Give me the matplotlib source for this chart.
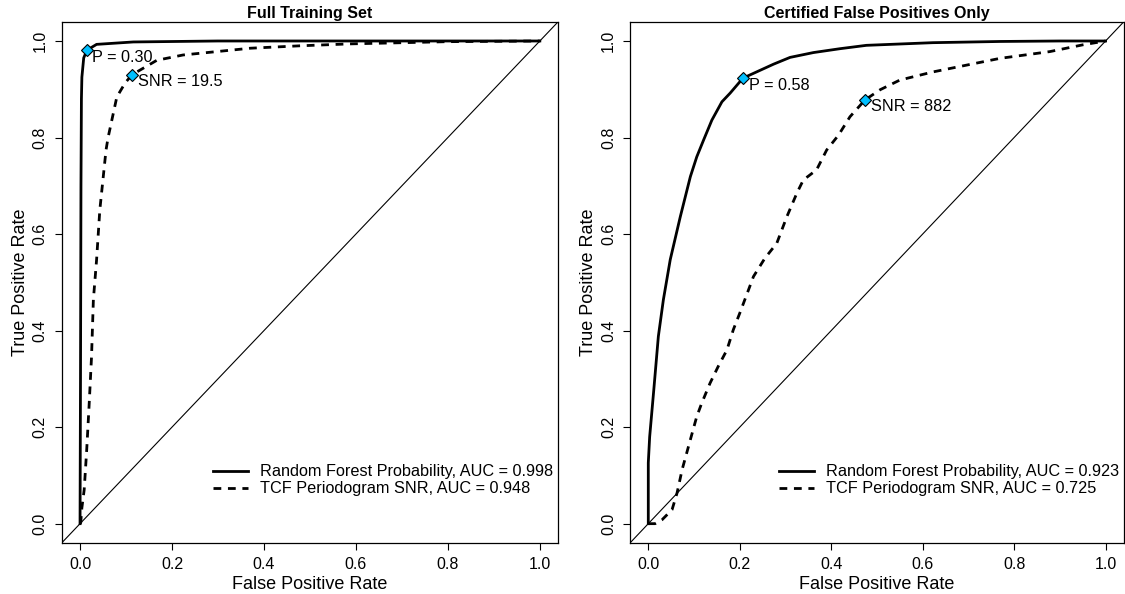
import matplotlib
matplotlib.use('Agg')
import matplotlib.pyplot as plt

plt.rcParams['font.family'] = ['Liberation Sans', 'DejaVu Sans']

# Panel 1: full training set
rf_full_fpr = [0, 0.001, 0.002, 0.003, 0.004, 0.008, 0.015, 0.036, 0.116, 0.3, 1.0]
rf_full_tpr = [0, 0.3, 0.7, 0.88, 0.925, 0.965, 0.981, 0.993, 0.998, 1.0, 1.0]
snr_full_fpr = [0, 0.0015, 0.004, 0.009, 0.0145, 0.0196, 0.025, 0.029, 0.036, 0.043,
                0.0565, 0.061, 0.08, 0.098, 0.113, 0.167, 0.224, 0.37, 0.478, 0.587, 0.8, 1.0]
snr_full_tpr = [0, 0.002, 0.033, 0.07, 0.153, 0.243, 0.346, 0.464, 0.547, 0.65,
                0.774, 0.80, 0.884, 0.913, 0.93, 0.96, 0.971, 0.985, 0.99, 0.994, 0.9986, 1.0]

# Panel 2: certified false positives only
rf_cert_fpr = [0, 0, 0.003, 0.012, 0.022, 0.033, 0.048, 0.07, 0.092, 0.106, 0.121, 0.139,
               0.161, 0.179, 0.207, 0.237, 0.274, 0.31, 0.361, 0.419, 0.477, 0.622, 0.769, 0.9, 1.0]
rf_cert_tpr = [0, 0.126, 0.18, 0.277, 0.388, 0.464, 0.547, 0.636, 0.719, 0.76, 0.795, 0.836,
               0.874, 0.892, 0.923, 0.936, 0.952, 0.966, 0.976, 0.984, 0.991, 0.9965, 0.999, 1.0, 1.0]
snr_cert_fpr = [0, 0.015, 0.03, 0.052, 0.063, 0.074, 0.092, 0.106, 0.117, 0.135, 0.153, 0.172,
                0.186, 0.2, 0.219, 0.23, 0.255, 0.281, 0.303, 0.325, 0.339, 0.368, 0.39, 0.416,
                0.441, 0.474, 0.507, 0.55, 0.623, 0.696, 0.769, 0.878, 0.95, 1.0]
snr_cert_tpr = [0, 0.0, 0.008, 0.029, 0.064, 0.112, 0.174, 0.222, 0.25, 0.291, 0.326, 0.36,
                0.402, 0.436, 0.484, 0.512, 0.55, 0.581, 0.636, 0.685, 0.712, 0.733, 0.774, 0.805,
                0.843, 0.878, 0.899, 0.919, 0.936, 0.95, 0.964, 0.978, 0.992, 1.0]

# chosen thresholds (fpr, tpr, label)
full_points = [(0.015, 0.981, 'P = 0.30'), (0.113, 0.93, 'SNR = 19.5')]
cert_points = [(0.207, 0.923, 'P = 0.58'), (0.474, 0.878, 'SNR = 882')]

titles = ['Full Training Set', 'Certified False Positives Only']
rf_labels = ['Random Forest Probability, AUC = 0.998', 'Random Forest Probability, AUC = 0.923']
snr_labels = ['TCF Periodogram SNR, AUC = 0.948', 'TCF Periodogram SNR, AUC = 0.725']
ticks = [0.0, 0.2, 0.4, 0.6, 0.8, 1.0]
diag = [0, 1]

fig = plt.figure(figsize=(11.25, 5.94), dpi=100)
ax1 = fig.add_axes([0.0548, 0.0859, 0.4414, 0.8776])
ax2 = fig.add_axes([0.5600, 0.0859, 0.4390, 0.8776])

panels = [
    (ax1, rf_full_fpr, rf_full_tpr, snr_full_fpr, snr_full_tpr, full_points),
    (ax2, rf_cert_fpr, rf_cert_tpr, snr_cert_fpr, snr_cert_tpr, cert_points),
]

for i, (ax, rx, ry, sx, sy, pts) in enumerate(panels):
    ax.plot(rx, ry, color='black', lw=2.0, solid_joinstyle='round',
            label=rf_labels[i])
    ax.plot(sx, sy, color='black', lw=2.0, linestyle=(0, (2.8, 2.4)),
            label=snr_labels[i])
    ax.axline((diag[0], diag[0]), (diag[1], diag[1]), color='black', lw=0.8)
    for px, py, txt in pts:
        ax.plot(px, py, marker='D', ms=6.5, mfc='#00BFFF', mec='black', mew=0.8,
                zorder=5)
        ax.annotate(txt, (px, py), xytext=(4, -5), textcoords='offset points',
                    ha='left', va='center', fontsize=11.7)
    ax.set_xlim(-0.04, 1.04)
    ax.set_ylim(-0.04, 1.04)
    ax.set_xticks(ticks)
    ax.set_yticks(ticks)
    ax.set_xticklabels(['%.1f' % t for t in ticks], fontsize=11.5)
    ax.set_yticklabels(['%.1f' % t for t in ticks], fontsize=11.5,
                       rotation=90, va='center')
    ax.tick_params(direction='out', length=5, width=0.8, pad=5)
    for s in ax.spines.values():
        s.set_linewidth(0.9)
    ax.set_xlabel('False Positive Rate', fontsize=13, labelpad=3)
    ax.set_ylabel('True Positive Rate', fontsize=13, labelpad=3)
    ax.set_title(titles[i], fontsize=11.5, fontweight='bold', pad=3)
    ax.legend(loc='lower right', bbox_to_anchor=(1.0, 0.080), frameon=False,
              fontsize=11.7, handlelength=2.15, handletextpad=0.75,
              labelspacing=0.12, borderaxespad=0.0, borderpad=0.3)

fig.savefig('out.png', dpi=100)
